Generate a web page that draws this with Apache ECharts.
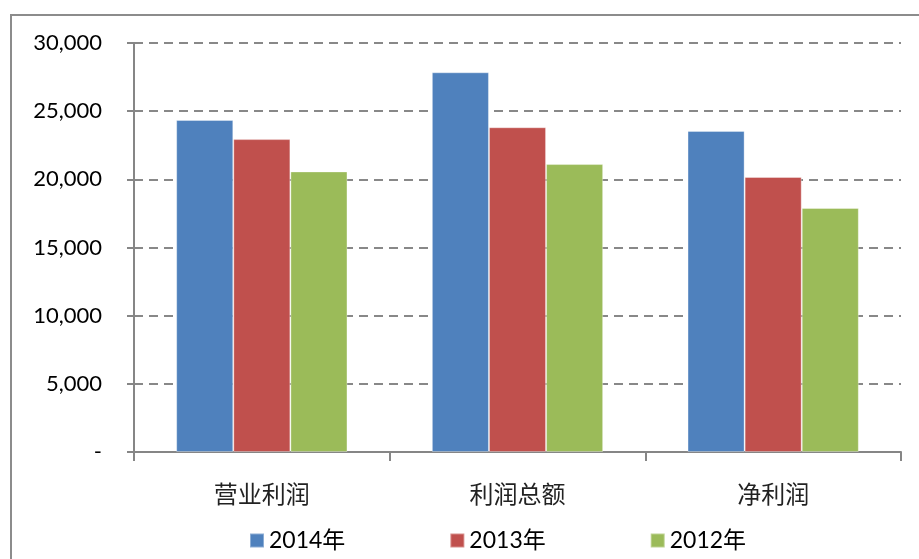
<!DOCTYPE html>
<html>
<head>
<meta charset="utf-8">
<script src="https://cdn.jsdelivr.net/npm/echarts@6/dist/echarts.min.js"></script>
<style>
    html, body { margin: 0; padding: 0; background: #fff; }
    #chart { width: 919px; height: 559px; }
</style>
</head>
<body>
<div id="chart"></div>
<script>
const categories = ['营业利润', '利润总额', '净利润']
const seriesNames = ['2014年', '2013年', '2012年']
const values2014 = [24350, 27850, 23550]
const values2013 = [22950, 23820, 20170]
const values2012 = [20580, 21120, 17900]
const colors = ['#4F81BD', '#C0504D', '#9BBB59']

const chart = echarts.init(document.getElementById('chart'))
const fontFamily = 'Lato, "Noto Sans CJK SC", sans-serif'

const makeSeries = (name, data, i) => ({
    type: 'bar',
    name: name,
    data: data,
    barGap: '0%',
    barCategoryGap: '33%',
    itemStyle: { color: colors[i], borderColor: 'rgba(255,255,255,0.35)', borderWidth: 1 }
})

chart.setOption({
    animation: false,
    color: colors,
    graphic: [
        {
            type: 'rect',
            shape: { x: 11, y: 15, width: 1000, height: 1000 },
            style: { fill: 'none', stroke: '#8c8c8c', lineWidth: 2 }
        }
    ],
    grid: { left: 134, right: 18, top: 43, bottom: 107 },
    legend: {
        left: 244,
        top: 524,
        itemWidth: 14,
        itemHeight: 14,
        itemGap: 104,
        icon: 'rect',
        textStyle: { fontFamily: fontFamily, fontSize: 23, color: '#000' },
        data: seriesNames
    },
    xAxis: {
        type: 'category',
        data: categories,
        axisLine: { lineStyle: { color: '#868686', width: 2 } },
        axisTick: { show: true, length: 9, lineStyle: { color: '#868686', width: 2 } },
        axisLabel: { fontFamily: fontFamily, fontSize: 24, color: '#222', margin: 31 }
    },
    yAxis: {
        type: 'value',
        min: 0,
        max: 30000,
        interval: 5000,
        axisLine: { show: true, lineStyle: { color: '#868686', width: 2 } },
        axisTick: { show: true, length: 7, lineStyle: { color: '#868686', width: 2 } },
        splitLine: { lineStyle: { color: '#888', type: [9, 6], width: 2 } },
        axisLabel: {
            fontFamily: fontFamily,
            fontSize: 22,
            color: '#000',
            margin: 32,
            formatter: (v) => v === 0 ? '-' : v.toLocaleString('en-US')
        }
    },
    series: [
        makeSeries(seriesNames[0], values2014, 0),
        makeSeries(seriesNames[1], values2013, 1),
        makeSeries(seriesNames[2], values2012, 2)
    ]
})
</script>
</body>
</html>
